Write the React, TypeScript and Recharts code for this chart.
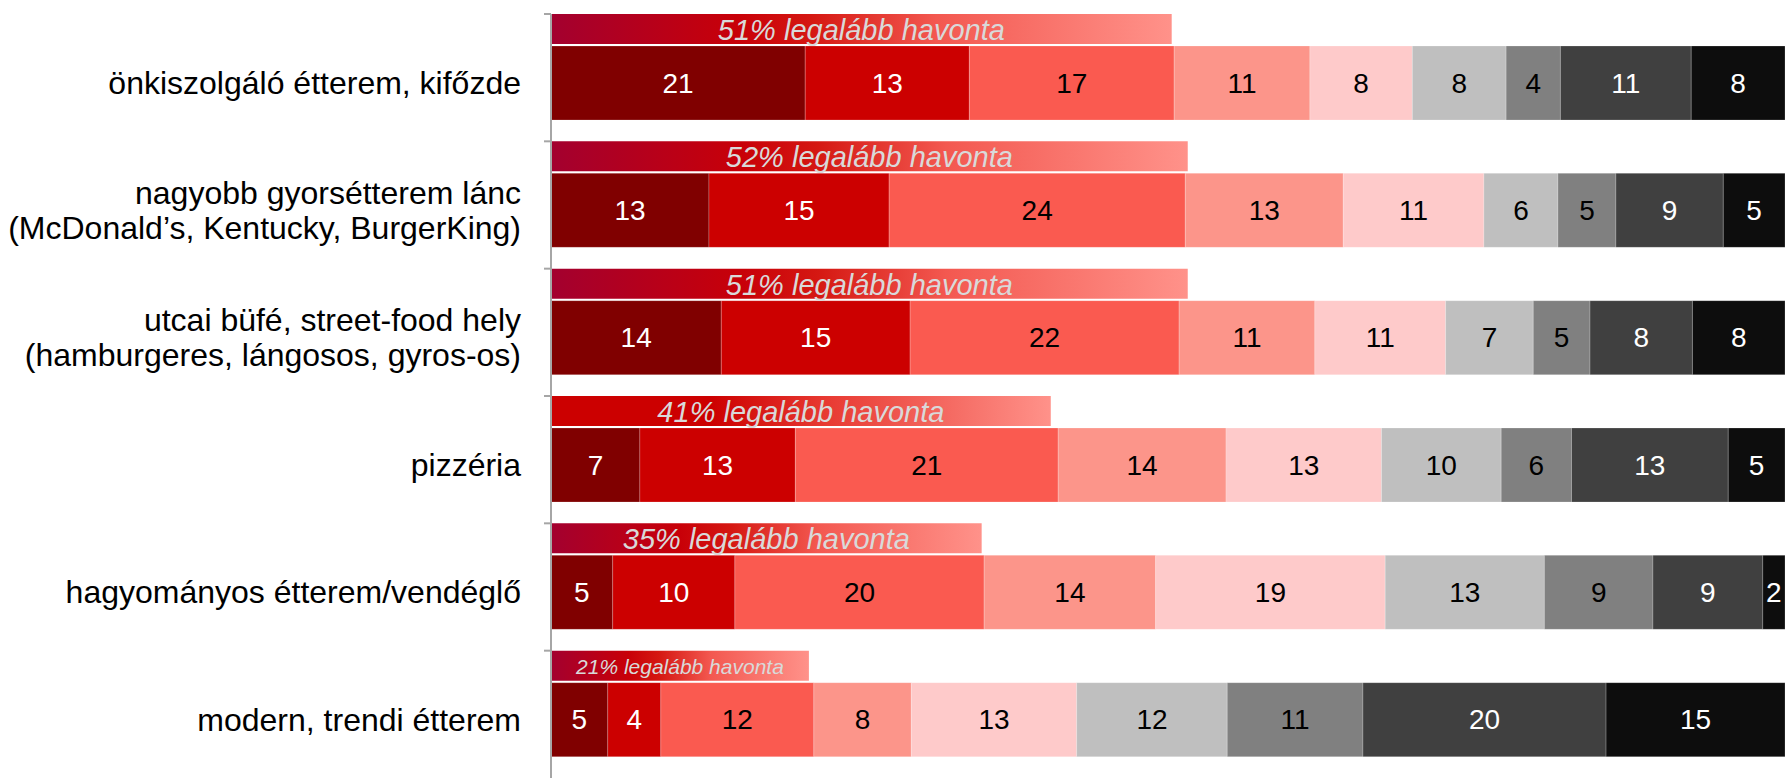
import React from 'react'
import { BarChart, Bar, XAxis, YAxis, Cell, LabelList } from 'recharts'

const categories = [
  'önkiszolgáló étterem, kifőzde',
  'nagyobb gyorsétterem lánc\n(McDonald’s, Kentucky, BurgerKing)',
  'utcai büfé, street-food hely\n(hamburgeres, lángosos, gyros-os)',
  'pizzéria',
  'hagyományos étterem/vendéglő',
  'modern, trendi étterem'
]

// "at least monthly" header bar: length and printed label
const monthly = [50.3, 51.6, 51.6, 40.5, 34.9, 20.9]
const monthlyLabels = [51, 52, 51, 41, 35, 21]

// nine frequency levels, most frequent first
const level1 = [20.6, 12.8, 13.8, 7.2, 5.0, 4.6]
const level2 = [13.3, 14.6, 15.3, 12.6, 9.9, 4.3]
const level3 = [16.6, 24.0, 21.8, 21.3, 20.2, 12.4]
const level4 = [11.0, 12.8, 11.0, 13.6, 13.9, 7.9]
const level5 = [8.3, 11.4, 10.6, 12.6, 18.6, 13.4]
const level6 = [7.6, 6.0, 7.1, 9.7, 12.9, 12.2]
const level7 = [4.4, 4.7, 4.6, 5.7, 8.8, 11.0]
const level8 = [10.6, 8.7, 8.3, 12.7, 8.9, 19.7]
const level9 = [7.6, 5.0, 7.5, 4.6, 1.8, 14.5]

const levels = [level1, level2, level3, level4, level5, level6, level7, level8, level9]
const fills = ['#800000', '#CC0000', '#FA5A50', '#FC958A', '#FECACA', '#BFBFBF', '#808080', '#404040', '#0D0D0D']
const textColors = ['#fff', '#fff', '#000', '#000', '#000', '#000', '#000', '#fff', '#fff']

const data = categories.map((name, i) => {
  const row: any = { name, monthly: monthly[i], monthlyLabel: monthlyLabels[i], pad: 0 }
  levels.forEach((lv, k) => { row['l' + k] = lv[i] })
  return row
})

const W = 1785
const H = 778
const TOP = 14
const AXIS_X = 551
const BAND = (H - TOP) / categories.length
const FONT = '"Liberation Sans", Arial, sans-serif'

const CategoryTick = ({ y, payload }: any) => {
  const bandTop = y - BAND / 2
  const cy = bandTop + 32 + 37
  const lines = String(payload.value).split('\n')
  return (
    <g>
      <line x1={AXIS_X - 7} x2={AXIS_X} y1={bandTop} y2={bandTop} stroke="#A6A6A6" strokeWidth={2} />
      {lines.map((ln, i) => (
        <text
          key={i}
          x={AXIS_X - 30}
          y={cy + (i - (lines.length - 1) / 2) * 35}
          textAnchor="end"
          dominantBaseline="central"
          fontFamily={FONT}
          fontSize={32}
          fill="#000"
        >
          {ln}
        </text>
      ))}
    </g>
  )
}

const HeaderLabel = ({ x, y, width, height, value }: any) => (
  <text
    x={x + width / 2}
    y={y + height / 2 + 1}
    textAnchor="middle"
    dominantBaseline="central"
    fontFamily={FONT}
    fontStyle="italic"
    fontSize={width < 300 ? 21 : 29}
    fill="#D9D9D9"
  >
    {value}% legalább havonta
  </text>
)

export default function App() {
  return (
    <div>
      <style>{'body{margin:0}'}</style>
      <BarChart
        width={W}
        height={H}
        data={data}
        layout="vertical"
        barGap={2}
        margin={{ top: TOP, right: 0, bottom: 0, left: 0 }}
      >
        <defs>
          <linearGradient id="hdr" x1="0" y1="0" x2="1" y2="0">
            <stop offset="0%" stopColor="#A3002F" />
            <stop offset="30%" stopColor="#C80008" />
            <stop offset="42%" stopColor="#D51812" />
            <stop offset="62%" stopColor="#F35850" />
            <stop offset="100%" stopColor="#FF928A" />
          </linearGradient>
          <linearGradient id="hdrRed" x1="0" y1="0" x2="1" y2="0">
            <stop offset="0%" stopColor="#CC0000" />
            <stop offset="32%" stopColor="#CC0000" />
            <stop offset="55%" stopColor="#E83A32" />
            <stop offset="100%" stopColor="#FF928A" />
          </linearGradient>
        </defs>
        <XAxis type="number" domain={[0, 100]} hide />
        <YAxis
          type="category"
          dataKey="name"
          width={AXIS_X}
          axisLine={{ stroke: '#A6A6A6', strokeWidth: 2 }}
          tickLine={false}
          tick={<CategoryTick />}
          interval={0}
        />
        <Bar dataKey="monthly" stackId="head" barSize={30} isAnimationActive={false}>
          {data.map((_, i) => (
            <Cell key={i} fill={i === 3 ? 'url(#hdrRed)' : 'url(#hdr)'} />
          ))}
          <LabelList dataKey="monthlyLabel" content={<HeaderLabel />} />
        </Bar>
        {levels.map((_, k) => (
          <Bar
            key={k}
            dataKey={'l' + k}
            stackId="main"
            barSize={74}
            fill={fills[k]}
            stroke="#ffffff"
            strokeOpacity={0.2}
            strokeWidth={1}
            isAnimationActive={false}
          >
            <LabelList
              dataKey={'l' + k}
              content={({ x, y, width, height, value }: any) => (
                <text
                  x={x + width / 2}
                  y={y + height / 2}
                  textAnchor="middle"
                  dominantBaseline="central"
                  fontFamily={FONT}
                  fontSize={28}
                  fill={textColors[k]}
                >
                  {Math.round(value)}
                </text>
              )}
            />
          </Bar>
        ))}
        <Bar dataKey="pad" stackId="pad" barSize={19} fill="none" isAnimationActive={false} />
      </BarChart>
    </div>
  )
}
